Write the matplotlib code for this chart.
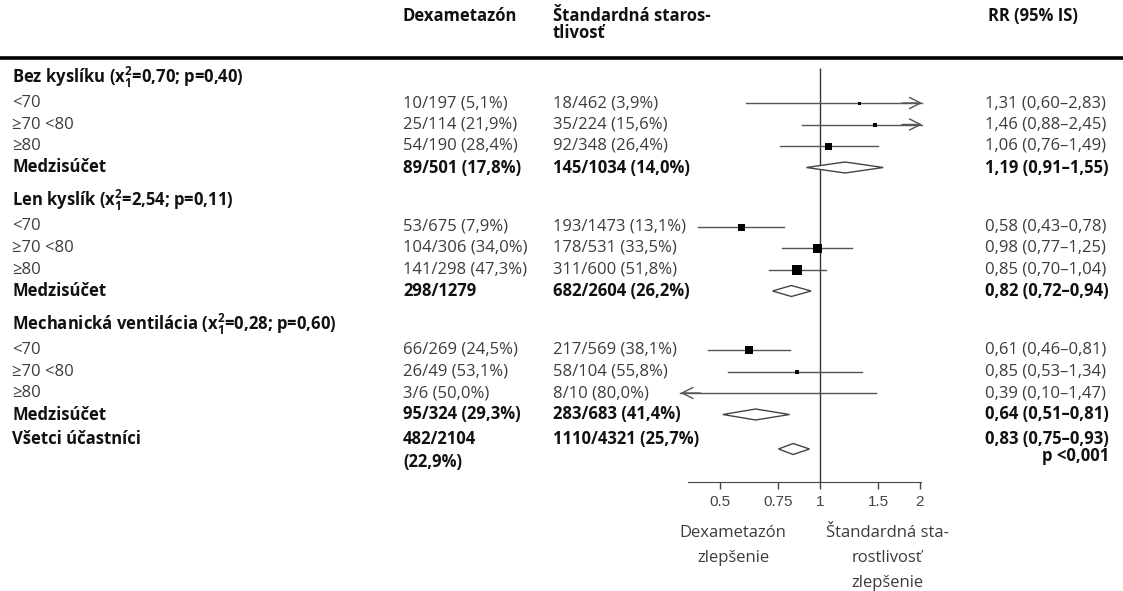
import numpy as np
import matplotlib.pyplot as plt
from matplotlib.patches import Polygon

plt.rcParams['font.family'] = ['Open Sans', 'DejaVu Sans']
plt.rcParams['mathtext.fontset'] = 'custom'
plt.rcParams['mathtext.rm'] = 'Open Sans:bold'
plt.rcParams['mathtext.it'] = 'Open Sans:bold'
plt.rcParams['mathtext.bf'] = 'Open Sans:bold'

# data
groups = ['Bez kyslíku', 'Len kyslík', 'Mechanická ventilácia']
group_stats = [r'(x$_1^{2}$=0,70; p=0,40)', r'(x$_1^{2}$=2,54; p=0,11)', r'(x$_1^{2}$=0,28; p=0,60)']
age_bands = ['<70', '≥70 <80', '≥80']

dexa = [['10/197 (5,1%)', '25/114 (21,9%)', '54/190 (28,4%)', '89/501 (17,8%)'],
        ['53/675 (7,9%)', '104/306 (34,0%)', '141/298 (47,3%)', '298/1279'],
        ['66/269 (24,5%)', '26/49 (53,1%)', '3/6 (50,0%)', '95/324 (29,3%)']]
usual = [['18/462 (3,9%)', '35/224 (15,6%)', '92/348 (26,4%)', '145/1034 (14,0%)'],
         ['193/1473 (13,1%)', '178/531 (33,5%)', '311/600 (51,8%)', '682/2604 (26,2%)'],
         ['217/569 (38,1%)', '58/104 (55,8%)', '8/10 (80,0%)', '283/683 (41,4%)']]

rr = [[1.31, 1.46, 1.06, 1.19],
      [0.58, 0.98, 0.85, 0.82],
      [0.61, 0.85, 0.39, 0.64]]
lo = [[0.60, 0.88, 0.76, 0.91],
      [0.43, 0.77, 0.70, 0.72],
      [0.46, 0.53, 0.10, 0.51]]
hi = [[2.83, 2.45, 1.49, 1.55],
      [0.78, 1.25, 1.04, 0.94],
      [0.81, 1.34, 1.47, 0.81]]

all_dexa = ['482/2104', '(22,9%)']
all_usual = '1110/4321 (25,7%)'
all_rr, all_lo, all_hi = 0.83, 0.75, 0.93
all_p = 'p <0,001'

# box sizes (px) for the subgroup squares
box_px = [[3, 5, 7], [7, 9, 10], [8, 5, 0]]

ticks = [0.5, 0.75, 1, 1.5, 2]


def fmt_rr(r, a, b):
    return f'{r:.2f} ({a:.2f}–{b:.2f})'.replace('.', ',')


# layout (pixels, y measured from top)
W, H = 1123, 591
x_lab, x_dexa, x_usual, x_rr = 12, 403, 553, 985
axis_y = 482
one_px, px_per_doubling = 820, 100
f_left, f_right = 675, 932
clip_lo, clip_hi = 0.38, 2.03

GRAY = '#3c3c3c'
BLACK = '#111111'
LINE = '#555555'

fig = plt.figure(figsize=(W / 100, H / 100), dpi=100)
ax = fig.add_axes([0, 0, 1, 1])
ax.set_xlim(0, W)
ax.set_ylim(H, 0)
ax.axis('off')

# forest axes, x on log2 scale
xmin = 2 ** ((f_left - one_px) / px_per_doubling)
xmax = 2 ** ((f_right - one_px) / px_per_doubling)
axf = fig.add_axes([f_left / W, (H - axis_y) / H, (f_right - f_left) / W, axis_y / H])
axf.set_xscale('log', base=2)
axf.set_xlim(xmin, xmax)
axf.set_ylim(axis_y, 0)
axf.patch.set_alpha(0)
for s in ['top', 'left', 'right']:
    axf.spines[s].set_visible(False)
axf.spines['bottom'].set_bounds(0.40, 2.02)
axf.spines['bottom'].set_color('#444444')
axf.set_yticks([])
axf.set_xticks(ticks)
axf.set_xticklabels(['0.5', '0.75', '1', '1.5', '2'], family='Liberation Sans',
                    fontsize=11, color='#444444')
axf.xaxis.set_minor_locator(plt.NullLocator())
axf.tick_params(axis='x', length=5, width=1, color='#444444', pad=4)

ts = 12
arrow = dict(arrowstyle='->,head_length=0.4,head_width=0.2', color=LINE, lw=1,
             mutation_scale=20, shrinkA=0, shrinkB=0)

# header
ax.text(x_dexa, 16, 'Dexametazón', fontsize=ts, fontweight='bold', color=BLACK, va='center')
ax.text(x_usual, 16, 'Štandardná staros-', fontsize=ts, fontweight='bold', color=BLACK, va='center')
ax.text(x_usual, 33, 'tlivosť', fontsize=ts, fontweight='bold', color=BLACK, va='center')
ax.text(x_rr + 3, 16, 'RR (95% IS)', fontsize=ts, fontweight='bold', color=BLACK, va='center')
ax.hlines(58, 0, W, color='black', lw=2.6)

axf.vlines(1, 68, axis_y, color='#333333', lw=1)

y = 77
for g in range(3):
    ax.text(x_lab, y, groups[g] + ' ' + group_stats[g], fontsize=ts, fontweight='bold',
            color=BLACK, va='center')
    y += 26
    for i in range(4):
        bold = i == 3
        kw = dict(fontsize=ts, va='center', fontweight='bold' if bold else 'normal',
                  color=BLACK if bold else GRAY)
        ax.text(x_lab, y, 'Medzisúčet' if bold else age_bands[i], **kw)
        ax.text(x_dexa, y, dexa[g][i], **kw)
        ax.text(x_usual, y, usual[g][i], **kw)
        ax.text(x_rr, y, fmt_rr(rr[g][i], lo[g][i], hi[g][i]), **kw)

        r, a, b = rr[g][i], lo[g][i], hi[g][i]
        if bold:
            dy = 5.5
            axf.add_patch(Polygon([[a, y], [r, y - dy], [b, y], [r, y + dy]], closed=True,
                                  facecolor='white', edgecolor='#444444', lw=1, zorder=3))
        else:
            a_c, b_c = max(a, clip_lo), min(b, clip_hi)
            axf.plot([a_c, b_c], [y, y], color=LINE, lw=1, zorder=2)
            if b > clip_hi:
                axf.annotate('', xy=(clip_hi, y), xytext=(b_c / 1.15, y), arrowprops=arrow)
            if a < clip_lo:
                axf.annotate('', xy=(clip_lo, y), xytext=(a_c * 1.15, y), arrowprops=arrow)
            if box_px[g][i] > 0 and clip_lo < r < clip_hi:
                axf.plot([r], [y], marker='s', ms=box_px[g][i] * 0.72, color='black',
                         mec='black', mew=0, zorder=4)
        y += 21.5
    y += 33 - 21.5

# all participants
y_all = 439
bkw = dict(fontsize=ts, va='center', fontweight='bold', color=BLACK)
ax.text(x_lab, y_all, 'Všetci účastníci', **bkw)
ax.text(x_dexa, y_all, all_dexa[0], **bkw)
ax.text(x_dexa, y_all + 23, all_dexa[1], **bkw)
ax.text(x_usual, y_all, all_usual, **bkw)
t_rr = ax.text(x_rr, y_all, fmt_rr(all_rr, all_lo, all_hi), **bkw)
fig.canvas.draw()
bb = t_rr.get_window_extent()
ax.text(x_rr + bb.width, y_all + 17, all_p, ha='right', **bkw)
yd = 449
axf.add_patch(Polygon([[all_lo, yd], [all_rr, yd - 5.5], [all_hi, yd], [all_rr, yd + 5.5]],
                      closed=True, facecolor='white', edgecolor='#444444', lw=1, zorder=3))

# bottom labels
ax.text(733, 533, 'Dexametazón', fontsize=ts, color=GRAY, ha='center', va='center')
ax.text(733, 558, 'zlepšenie', fontsize=ts, color=GRAY, ha='center', va='center')
ax.text(887, 533, 'Štandardná sta-', fontsize=ts, color=GRAY, ha='center', va='center')
ax.text(887, 558, 'rostlivosť', fontsize=ts, color=GRAY, ha='center', va='center')
ax.text(887, 583, 'zlepšenie', fontsize=ts, color=GRAY, ha='center', va='center')

fig.savefig('out.png', dpi=100)
